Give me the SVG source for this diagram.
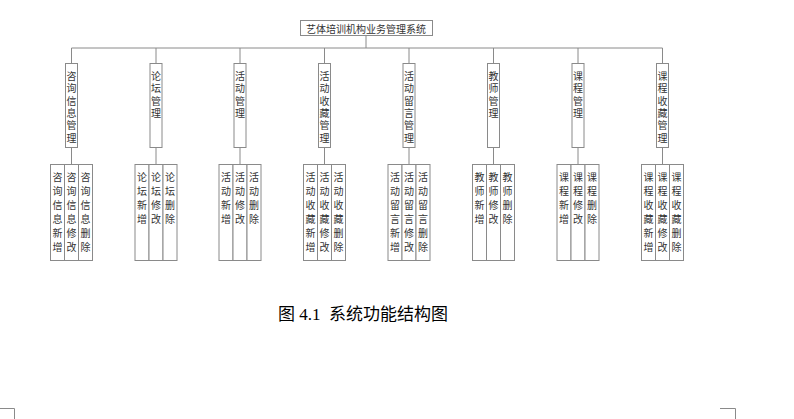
<svg xmlns="http://www.w3.org/2000/svg" width="794" height="419" viewBox="0 0 794 419">
<style>
.b{fill:#fff;stroke:#8a8a8a;stroke-width:1}
.l{stroke:#8a8a8a;stroke-width:1;fill:none}
.t{font-family:"Noto Sans CJK SC",sans-serif;font-size:10px;fill:#333;text-anchor:middle;dominant-baseline:central}
.c{font-family:"Liberation Serif","Noto Sans CJK SC",serif;font-size:17px;fill:#000;white-space:pre}
</style>
<rect width="794" height="419" fill="#fff"/>
<g id="connectors">
<path class="l" d="M366 35V48M71.5 48H662.5"/>
<path class="l" d="M71.5 48V63M71.5 147V164M156 48V63M156 147V164M240 48V63M240 147V164M324.5 48V63M324.5 147V164M409 48V63M409 147V164M493.5 48V63M493.5 147V164M578 48V63M578 147V164M662.5 48V63M662.5 147V164"/>
</g>
<g id="root"><rect class="b" x="300.5" y="20.5" width="132" height="15"/><text class="t" x="366" y="28">艺体培训机构业务管理系统</text></g>
<g id="n1"><rect class="b" x="65.5" y="63.5" width="12" height="84"/><text class="t"><tspan x="71.5" y="75">咨</tspan><tspan x="71.5" y="87.3">询</tspan><tspan x="71.5" y="99.6">信</tspan><tspan x="71.5" y="111.9">息</tspan><tspan x="71.5" y="124.2">管</tspan><tspan x="71.5" y="136.5">理</tspan></text></g>
<g id="n2"><rect class="b" x="150" y="63.5" width="12" height="84"/><text class="t"><tspan x="156" y="75">论</tspan><tspan x="156" y="87.3">坛</tspan><tspan x="156" y="99.6">管</tspan><tspan x="156" y="111.9">理</tspan></text></g>
<g id="n3"><rect class="b" x="234" y="63.5" width="12" height="84"/><text class="t"><tspan x="240" y="75">活</tspan><tspan x="240" y="87.3">动</tspan><tspan x="240" y="99.6">管</tspan><tspan x="240" y="111.9">理</tspan></text></g>
<g id="n4"><rect class="b" x="318.5" y="63.5" width="12" height="84"/><text class="t"><tspan x="324.5" y="75">活</tspan><tspan x="324.5" y="87.3">动</tspan><tspan x="324.5" y="99.6">收</tspan><tspan x="324.5" y="111.9">藏</tspan><tspan x="324.5" y="124.2">管</tspan><tspan x="324.5" y="136.5">理</tspan></text></g>
<g id="n5"><rect class="b" x="403" y="63.5" width="12" height="84"/><text class="t"><tspan x="409" y="75">活</tspan><tspan x="409" y="87.3">动</tspan><tspan x="409" y="99.6">留</tspan><tspan x="409" y="111.9">言</tspan><tspan x="409" y="124.2">管</tspan><tspan x="409" y="136.5">理</tspan></text></g>
<g id="n6"><rect class="b" x="487.5" y="63.5" width="12" height="84"/><text class="t"><tspan x="493.5" y="75">教</tspan><tspan x="493.5" y="87.3">师</tspan><tspan x="493.5" y="99.6">管</tspan><tspan x="493.5" y="111.9">理</tspan></text></g>
<g id="n7"><rect class="b" x="572" y="63.5" width="12" height="84"/><text class="t"><tspan x="578" y="75">课</tspan><tspan x="578" y="87.3">程</tspan><tspan x="578" y="99.6">管</tspan><tspan x="578" y="111.9">理</tspan></text></g>
<g id="n8"><rect class="b" x="656.5" y="63.5" width="12" height="84"/><text class="t"><tspan x="662.5" y="75">课</tspan><tspan x="662.5" y="87.3">程</tspan><tspan x="662.5" y="99.6">收</tspan><tspan x="662.5" y="111.9">藏</tspan><tspan x="662.5" y="124.2">管</tspan><tspan x="662.5" y="136.5">理</tspan></text></g>

<g id="l1"><rect class="b" x="50.5" y="164.5" width="14" height="96"/><rect class="b" x="64.5" y="164.5" width="14" height="96"/><rect class="b" x="78.5" y="164.5" width="14" height="96"/>
<text class="t"><tspan x="57.5" y="175.7">咨</tspan><tspan x="57.5" y="189.8">询</tspan><tspan x="57.5" y="203.9">信</tspan><tspan x="57.5" y="218">息</tspan><tspan x="57.5" y="232.1">新</tspan><tspan x="57.5" y="246.2">增</tspan></text>
<text class="t"><tspan x="71.5" y="175.7">咨</tspan><tspan x="71.5" y="189.8">询</tspan><tspan x="71.5" y="203.9">信</tspan><tspan x="71.5" y="218">息</tspan><tspan x="71.5" y="232.1">修</tspan><tspan x="71.5" y="246.2">改</tspan></text>
<text class="t"><tspan x="85.5" y="175.7">咨</tspan><tspan x="85.5" y="189.8">询</tspan><tspan x="85.5" y="203.9">信</tspan><tspan x="85.5" y="218">息</tspan><tspan x="85.5" y="232.1">删</tspan><tspan x="85.5" y="246.2">除</tspan></text></g>

<g id="l2"><rect class="b" x="135" y="164.5" width="14" height="96"/><rect class="b" x="149" y="164.5" width="14" height="96"/><rect class="b" x="163" y="164.5" width="14" height="96"/>
<text class="t"><tspan x="142" y="175.7">论</tspan><tspan x="142" y="189.8">坛</tspan><tspan x="142" y="203.9">新</tspan><tspan x="142" y="218">增</tspan></text>
<text class="t"><tspan x="156" y="175.7">论</tspan><tspan x="156" y="189.8">坛</tspan><tspan x="156" y="203.9">修</tspan><tspan x="156" y="218">改</tspan></text>
<text class="t"><tspan x="170" y="175.7">论</tspan><tspan x="170" y="189.8">坛</tspan><tspan x="170" y="203.9">删</tspan><tspan x="170" y="218">除</tspan></text></g>

<g id="l3"><rect class="b" x="219" y="164.5" width="14" height="96"/><rect class="b" x="233" y="164.5" width="14" height="96"/><rect class="b" x="247" y="164.5" width="14" height="96"/>
<text class="t"><tspan x="226" y="175.7">活</tspan><tspan x="226" y="189.8">动</tspan><tspan x="226" y="203.9">新</tspan><tspan x="226" y="218">增</tspan></text>
<text class="t"><tspan x="240" y="175.7">活</tspan><tspan x="240" y="189.8">动</tspan><tspan x="240" y="203.9">修</tspan><tspan x="240" y="218">改</tspan></text>
<text class="t"><tspan x="254" y="175.7">活</tspan><tspan x="254" y="189.8">动</tspan><tspan x="254" y="203.9">删</tspan><tspan x="254" y="218">除</tspan></text></g>

<g id="l4"><rect class="b" x="303.5" y="164.5" width="14" height="96"/><rect class="b" x="317.5" y="164.5" width="14" height="96"/><rect class="b" x="331.5" y="164.5" width="14" height="96"/>
<text class="t"><tspan x="310.5" y="175.7">活</tspan><tspan x="310.5" y="189.8">动</tspan><tspan x="310.5" y="203.9">收</tspan><tspan x="310.5" y="218">藏</tspan><tspan x="310.5" y="232.1">新</tspan><tspan x="310.5" y="246.2">增</tspan></text>
<text class="t"><tspan x="324.5" y="175.7">活</tspan><tspan x="324.5" y="189.8">动</tspan><tspan x="324.5" y="203.9">收</tspan><tspan x="324.5" y="218">藏</tspan><tspan x="324.5" y="232.1">修</tspan><tspan x="324.5" y="246.2">改</tspan></text>
<text class="t"><tspan x="338.5" y="175.7">活</tspan><tspan x="338.5" y="189.8">动</tspan><tspan x="338.5" y="203.9">收</tspan><tspan x="338.5" y="218">藏</tspan><tspan x="338.5" y="232.1">删</tspan><tspan x="338.5" y="246.2">除</tspan></text></g>

<g id="l5"><rect class="b" x="388" y="164.5" width="14" height="96"/><rect class="b" x="402" y="164.5" width="14" height="96"/><rect class="b" x="416" y="164.5" width="14" height="96"/>
<text class="t"><tspan x="395" y="175.7">活</tspan><tspan x="395" y="189.8">动</tspan><tspan x="395" y="203.9">留</tspan><tspan x="395" y="218">言</tspan><tspan x="395" y="232.1">新</tspan><tspan x="395" y="246.2">增</tspan></text>
<text class="t"><tspan x="409" y="175.7">活</tspan><tspan x="409" y="189.8">动</tspan><tspan x="409" y="203.9">留</tspan><tspan x="409" y="218">言</tspan><tspan x="409" y="232.1">修</tspan><tspan x="409" y="246.2">改</tspan></text>
<text class="t"><tspan x="423" y="175.7">活</tspan><tspan x="423" y="189.8">动</tspan><tspan x="423" y="203.9">留</tspan><tspan x="423" y="218">言</tspan><tspan x="423" y="232.1">删</tspan><tspan x="423" y="246.2">除</tspan></text></g>

<g id="l6"><rect class="b" x="472.5" y="164.5" width="14" height="96"/><rect class="b" x="486.5" y="164.5" width="14" height="96"/><rect class="b" x="500.5" y="164.5" width="14" height="96"/>
<text class="t"><tspan x="479.5" y="175.7">教</tspan><tspan x="479.5" y="189.8">师</tspan><tspan x="479.5" y="203.9">新</tspan><tspan x="479.5" y="218">增</tspan></text>
<text class="t"><tspan x="493.5" y="175.7">教</tspan><tspan x="493.5" y="189.8">师</tspan><tspan x="493.5" y="203.9">修</tspan><tspan x="493.5" y="218">改</tspan></text>
<text class="t"><tspan x="507.5" y="175.7">教</tspan><tspan x="507.5" y="189.8">师</tspan><tspan x="507.5" y="203.9">删</tspan><tspan x="507.5" y="218">除</tspan></text></g>

<g id="l7"><rect class="b" x="557" y="164.5" width="14" height="96"/><rect class="b" x="571" y="164.5" width="14" height="96"/><rect class="b" x="585" y="164.5" width="14" height="96"/>
<text class="t"><tspan x="564" y="175.7">课</tspan><tspan x="564" y="189.8">程</tspan><tspan x="564" y="203.9">新</tspan><tspan x="564" y="218">增</tspan></text>
<text class="t"><tspan x="578" y="175.7">课</tspan><tspan x="578" y="189.8">程</tspan><tspan x="578" y="203.9">修</tspan><tspan x="578" y="218">改</tspan></text>
<text class="t"><tspan x="592" y="175.7">课</tspan><tspan x="592" y="189.8">程</tspan><tspan x="592" y="203.9">删</tspan><tspan x="592" y="218">除</tspan></text></g>

<g id="l8"><rect class="b" x="641.5" y="164.5" width="14" height="96"/><rect class="b" x="655.5" y="164.5" width="14" height="96"/><rect class="b" x="669.5" y="164.5" width="14" height="96"/>
<text class="t"><tspan x="648.5" y="175.7">课</tspan><tspan x="648.5" y="189.8">程</tspan><tspan x="648.5" y="203.9">收</tspan><tspan x="648.5" y="218">藏</tspan><tspan x="648.5" y="232.1">新</tspan><tspan x="648.5" y="246.2">增</tspan></text>
<text class="t"><tspan x="662.5" y="175.7">课</tspan><tspan x="662.5" y="189.8">程</tspan><tspan x="662.5" y="203.9">收</tspan><tspan x="662.5" y="218">藏</tspan><tspan x="662.5" y="232.1">修</tspan><tspan x="662.5" y="246.2">改</tspan></text>
<text class="t"><tspan x="676.5" y="175.7">课</tspan><tspan x="676.5" y="189.8">程</tspan><tspan x="676.5" y="203.9">收</tspan><tspan x="676.5" y="218">藏</tspan><tspan x="676.5" y="232.1">删</tspan><tspan x="676.5" y="246.2">除</tspan></text></g>

<text class="c" x="278" y="320" xml:space="preserve">图 4.1  系统功能结构图</text>
<path class="l" d="M0 408.5H14.5V419M735.5 419V408.5H720"/>
</svg>
